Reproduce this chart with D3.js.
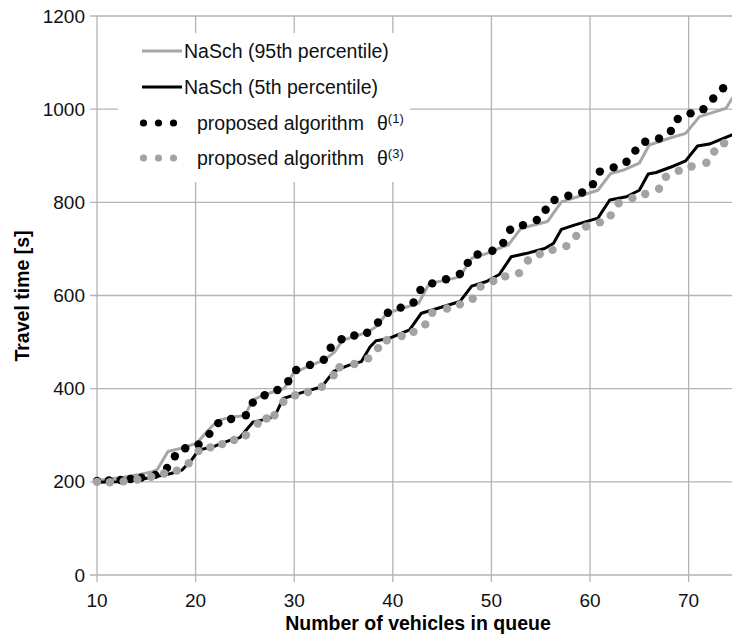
<!DOCTYPE html>
<html>
<head>
<meta charset="utf-8">
<script src="https://cdn.jsdelivr.net/npm/d3@7"></script>
<style>
  html, body { margin: 0; padding: 0; background: #fff; }
  svg { display: block; font-family: "Liberation Sans", Arial, sans-serif; }
</style>
</head>
<body>
<svg id="chart" width="732" height="642"></svg>
<script>
// ---------------- data ----------------
const xTicks = [10, 20, 30, 40, 50, 60, 70];
const yTicks = [0, 200, 400, 600, 800, 1000, 1200];

// NaSch (95th percentile) – grey line
const p95X = [10, 11.3, 12.7, 14.1, 15.5, 16.1, 17.2, 18.9, 20.1, 21.6, 22.3, 23.6, 25.0, 25.8, 27.0, 28.0, 29.0, 29.9, 31.4, 33.1, 34.1, 34.9, 36.1, 37.5, 38.3, 39.4, 40.9, 42.6, 43.7, 45.4, 46.8, 48.0, 49.5, 51.2, 51.7, 53.0, 54.4, 55.7, 57.1, 58.6, 60.8, 62.1, 63.5, 65.0, 66.0, 67.8, 69.7, 71.1, 72.5, 73.8, 74.4, 75];
const p95Y = [203, 206, 210, 215, 221, 226, 265, 274, 283, 318, 332, 339, 342, 376, 387, 394, 401, 433, 448, 462, 479, 504, 512, 522, 533, 562, 572, 583, 626, 633, 640, 680, 690, 705, 708, 744, 752, 759, 801, 811, 826, 862, 870, 884, 923, 936, 948, 984, 993, 1002, 1023, 1035];

// NaSch (5th percentile) – black line
const p5X = [10, 12, 14, 15.9, 17.5, 18.6, 19.6, 20.3, 22.0, 23.6, 24.5, 25.8, 27.0, 28.0, 28.9, 30.5, 32.8, 34.0, 35.5, 36.8, 37.7, 38.3, 39.5, 41.7, 42.9, 44.5, 46.8, 48.0, 49.5, 50.8, 52.0, 53.5, 55.4, 56.3, 57.1, 58.4, 60.8, 62.0, 63.7, 65.0, 65.9, 66.7, 68.5, 69.7, 70.9, 72.1, 74.4, 75];
const p5Y = [199, 200, 204, 211, 218, 225, 247, 268, 277, 290, 295, 328, 334, 340, 379, 390, 404, 437, 450, 458, 490, 503, 507, 526, 562, 572, 587, 620, 630, 645, 683, 690, 701, 712, 742, 751, 766, 805, 812, 826, 861, 864, 878, 889, 921, 925, 945, 950];

// proposed algorithm θ(1) – black dots
const theta1X = [10, 11.2, 12.4, 13.4, 14.5, 15.9, 17.1, 17.9, 18.95, 20.3, 21.4, 22.3, 23.6, 25.1, 25.8, 27.0, 28.3, 29.4, 30.2, 31.6, 33.0, 33.7, 34.8, 36.1, 37.4, 38.5, 39.5, 40.8, 42.1, 42.8, 44.0, 45.4, 46.8, 47.6, 48.6, 50.1, 51.2, 51.9, 53.2, 54.6, 55.5, 56.4, 57.8, 59.2, 60.3, 61.0, 62.4, 63.7, 64.6, 65.6, 67.0, 68.2, 68.9, 70.2, 71.5, 72.5, 73.5];
const theta1Y = [202, 203, 204, 206, 209, 215, 230, 255, 272, 280, 303, 326, 335, 343, 370, 386, 397, 416, 440, 451, 462, 488, 506, 514, 520, 542, 563, 574, 585, 612, 626, 635, 646, 670, 688, 696, 713, 741, 751, 762, 784, 805, 814, 821, 839, 866, 875, 887, 911, 930, 937, 953, 979, 991, 1000, 1023, 1045];

// proposed algorithm θ(3) – grey dots
const theta3X = [10, 11.3, 12.7, 14.1, 15.5, 16.8, 18.1, 19.3, 20.3, 21.5, 22.7, 23.9, 25.1, 26.3, 27.2, 28.0, 28.9, 30.1, 31.4, 32.8, 34.0, 34.6, 36.1, 37.5, 38.5, 39.4, 40.9, 42.1, 43.3, 44.0, 45.5, 46.8, 48.1, 48.9, 50.2, 51.4, 52.8, 53.7, 54.9, 56.2, 57.6, 58.6, 59.6, 61.0, 62.1, 62.9, 64.3, 65.6, 67.0, 67.7, 69.0, 70.3, 71.8, 72.6, 73.6];
const theta3Y = [200, 199, 201, 205, 211, 218, 224, 240, 266, 274, 281, 290, 300, 325, 336, 343, 372, 386, 393, 404, 429, 446, 453, 465, 487, 504, 513, 522, 538, 563, 572, 581, 593, 619, 631, 641, 648, 675, 689, 698, 706, 728, 748, 757, 772, 798, 809, 818, 829, 855, 868, 877, 885, 909, 927];

const legendLabels = ["NaSch (95th percentile)", "NaSch (5th percentile)", "proposed algorithm", "proposed algorithm"];
const legendSup = [null, null, "(1)", "(3)"];

// ---------------- drawing ----------------
const GRID = "#b4b4b4", GREY = "#a6a6a6", GREYDOT = "#a3a3a3";
const svg = d3.select("#chart");
const x = d3.scaleLinear().domain([10, 74.4]).range([97, 732]);
const y = d3.scaleLinear().domain([0, 1200]).range([575, 16]);

// gridlines
svg.append("g").selectAll("line").data(yTicks).join("line")
  .attr("x1", 90).attr("x2", 732)
  .attr("y1", d => y(d)).attr("y2", d => y(d))
  .attr("stroke", GRID).attr("stroke-width", 1.3);
svg.append("g").selectAll("line").data(xTicks).join("line")
  .attr("x1", d => x(d)).attr("x2", d => x(d))
  .attr("y1", y(1200)).attr("y2", 582)
  .attr("stroke", GRID).attr("stroke-width", 1.3);

// tick labels
svg.append("g").selectAll("text").data(yTicks).join("text")
  .attr("x", 85).attr("y", d => y(d)).attr("dy", "0.35em")
  .attr("text-anchor", "end").attr("font-size", 19).attr("fill", "#111")
  .text(d => d);
svg.append("g").selectAll("text").data(xTicks).join("text")
  .attr("x", d => x(d)).attr("y", 607)
  .attr("text-anchor", "middle").attr("font-size", 19).attr("fill", "#111")
  .text(d => d);

// axis titles
svg.append("text").attr("x", 418).attr("y", 630)
  .attr("text-anchor", "middle").attr("font-size", 19.5).attr("font-weight", "bold")
  .text("Number of vehicles in queue");
svg.append("text").attr("transform", "translate(29,296) rotate(-90)")
  .attr("text-anchor", "middle").attr("font-size", 19.5).attr("font-weight", "bold")
  .text("Travel time [s]");

// series
const plot = svg.append("g");
const lineGen = d3.line().x(d => x(d[0])).y(d => y(d[1]));
plot.append("path").datum(d3.zip(p95X, p95Y)).attr("d", lineGen)
  .attr("fill", "none").attr("stroke", GREY).attr("stroke-width", 3).attr("stroke-linejoin", "round");
plot.append("path").datum(d3.zip(p5X, p5Y)).attr("d", lineGen)
  .attr("fill", "none").attr("stroke", "#000").attr("stroke-width", 3).attr("stroke-linejoin", "round");
plot.append("g").selectAll("circle").data(d3.zip(theta1X, theta1Y)).join("circle")
  .attr("cx", d => x(d[0])).attr("cy", d => y(d[1])).attr("r", 4.2).attr("fill", "#000");
plot.append("g").selectAll("circle").data(d3.zip(theta3X, theta3Y)).join("circle")
  .attr("cx", d => x(d[0])).attr("cy", d => y(d[1])).attr("r", 4.2).attr("fill", GREYDOT);

// legend
const lg = svg.append("g");
lg.append("rect").attr("x", 118).attr("y", 33).attr("width", 292).attr("height", 149).attr("fill", "#fff");
const rowY = [51, 87, 123, 158];
lg.append("line").attr("x1", 142).attr("x2", 182).attr("y1", rowY[0]).attr("y2", rowY[0])
  .attr("stroke", GREY).attr("stroke-width", 3);
lg.append("line").attr("x1", 142).attr("x2", 182).attr("y1", rowY[1]).attr("y2", rowY[1])
  .attr("stroke", "#000").attr("stroke-width", 3);
[143.5, 158.5, 173.5].forEach(cx => {
  lg.append("circle").attr("cx", cx).attr("cy", rowY[2]).attr("r", 3.6).attr("fill", "#000");
  lg.append("circle").attr("cx", cx).attr("cy", rowY[3]).attr("r", 3.6).attr("fill", GREYDOT);
});
legendLabels.forEach((t, i) => {
  const tx = lg.append("text").attr("x", i < 2 ? 184 : 197).attr("y", rowY[i]).attr("dy", "0.35em")
    .attr("font-size", 19.5).attr("fill", "#111");
  tx.append("tspan").text(t);
  if (legendSup[i]) {
    tx.append("tspan").attr("x", 377).text("θ");
    tx.append("tspan").attr("font-size", 13).attr("dy", "-0.5em").text(legendSup[i]);
  }
});
</script>
</body>
</html>
